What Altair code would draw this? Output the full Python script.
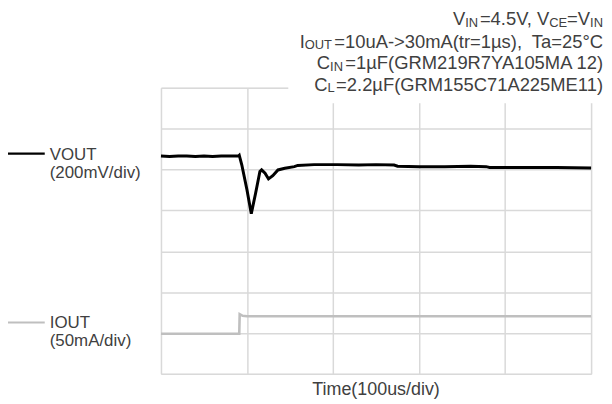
import altair as alt
import pandas as pd

# ---- data (in divisions) ----
vout_t = [0, 0.1, 0.2, 0.3, 0.4, 0.5, 0.6, 0.7, 0.8, 0.9, 0.91, 0.94, 1.0, 1.05, 1.10, 1.15,
          1.17, 1.21, 1.25, 1.30, 1.36, 1.44, 1.55, 1.59, 1.78, 2.05, 2.3, 2.5, 2.71, 2.75,
          3.0, 3.3, 3.6, 3.78, 3.82, 4.2, 4.6, 5.0]
vout_v = [5.33, 5.32, 5.33, 5.33, 5.32, 5.33, 5.32, 5.33, 5.33, 5.33, 5.35, 5.11, 4.5, 3.92,
          4.42, 4.95, 4.99, 4.91, 4.77, 4.85, 4.99, 5.03, 5.07, 5.10, 5.12, 5.12, 5.11, 5.12,
          5.11, 5.08, 5.07, 5.07, 5.08, 5.07, 5.05, 5.05, 5.05, 5.04]
iout_t = [0, 0.2, 0.4, 0.6, 0.8, 0.91, 0.915, 0.95, 1.0, 1.5, 2.0, 3.0, 4.0, 5.0]
iout_v = [0.98, 0.98, 0.98, 0.98, 0.98, 0.98, 1.46, 1.42, 1.41, 1.41, 1.41, 1.41, 1.41, 1.41]

x_ticks = [0, 1, 2, 3, 4, 5]
y_ticks = [0, 1, 2, 3, 4, 5, 6, 7]

cond_lines = [
    [("V", 0), ("IN", 1), ("=4.5V, V", 0), ("CE", 1), ("=V", 0), ("IN", 1)],
    [("I", 0), ("OUT", 1), ("=10uA->30mA(tr=1µs),\u00a0 Ta=25°C", 0)],
    [("C", 0), ("IN", 1), ("=1µF(GRM219R7YA105MA 12)", 0)],
    [("C", 0), ("L", 1), ("=2.2µF(GRM155C71A225ME11)", 0)],
]
legend_items = [("VOUT", "(200mV/div)", "#000000"), ("IOUT", "(50mA/div)", "#bfbfbf")]
x_title = "Time(100us/div)"

# ---- layout / style ----
W, H = 433, 288
FONT = "Liberation Sans"
TXT = "#404040"
MAIN, SUB = 18.5, 13
AW = {' ': 278, '\u00a0': 278, ',': 278, '(': 333, ')': 333, '-': 333, '.': 278, '/': 278,
      '=': 584, '>': 584, '°': 400, 'µ': 563, 'A': 667, 'C': 722, 'E': 667, 'F': 611,
      'G': 778, 'I': 278, 'L': 556, 'M': 833, 'N': 722, 'O': 778, 'R': 722, 'T': 611,
      'U': 722, 'V': 667, 'Y': 667, 'a': 556, 'm': 833, 'r': 333, 's': 500, 't': 278,
      'u': 556}


def tw(s, size):
    return sum(AW.get(c, 556) for c in s) * size / 1000.0


xs = alt.Scale(domain=[0, 5], nice=False, zero=False)
ys = alt.Scale(domain=[0, 7], nice=False, zero=False)

df_v = pd.DataFrame({"t": vout_t, "v": vout_v, "i": range(len(vout_t))})
df_i = pd.DataFrame({"t": iout_t, "v": iout_v, "i": range(len(iout_t))})

base_v = alt.Chart(df_v)
grid = base_v.mark_point(opacity=0).encode(
    x=alt.X("t:Q", scale=xs, axis=alt.Axis(values=x_ticks, grid=True, labels=False, ticks=False,
                                            domain=False, title=None, gridColor="#d9d9d9",
                                            gridWidth=1.5)),
    y=alt.Y("v:Q", scale=ys, axis=alt.Axis(values=y_ticks, grid=True, labels=False, ticks=False,
                                            domain=False, title=None, gridColor="#d9d9d9",
                                            gridWidth=1.5)),
)

one = pd.DataFrame({"a": [0]})
cover = alt.Chart(one).mark_rect(color="white").encode(
    x=alt.datum(1.48), x2=alt.datum(5.3), y=alt.datum(6.62), y2=alt.datum(7.6)
)

iline = alt.Chart(df_i).mark_line(color="#bfbfbf", strokeWidth=2.6).encode(
    x="t:Q", y="v:Q", order="i:Q")
vline = base_v.mark_line(color="#000000", strokeWidth=3).encode(
    x="t:Q", y="v:Q", order="i:Q")

layers = [grid, cover, iline, vline]

# condition text, right aligned, built from segments
RIGHT = 445
baselines = [-63, -40.5, -18.5, 3]
for segs, by in zip(cond_lines, baselines):
    xr = RIGHT
    for text, sub in reversed(segs):
        size = SUB if sub else MAIN
        layers.append(alt.Chart(one).mark_text(
            text=text, align="right", baseline="alphabetic", font=FONT, fontSize=size,
            color=TXT).encode(x=alt.value(xr), y=alt.value(by + (1.5 if sub else 0))))
        xr -= tw(text, size)

# left legend
leg_pos = [(66.3, 72.5, 91), (236.3, 241.5, 260)]
for (name, scale_txt, col), (ly, b1, b2) in zip(legend_items, leg_pos):
    layers.append(alt.Chart(one).mark_rule(color=col, strokeWidth=2.2).encode(
        x=alt.value(-154), x2=alt.value(-117), y=alt.value(ly)))
    layers.append(alt.Chart(one).mark_text(
        text=name, align="left", baseline="alphabetic", font=FONT, fontSize=17,
        color=TXT).encode(x=alt.value(-112), y=alt.value(b1)))
    layers.append(alt.Chart(one).mark_text(
        text=scale_txt, align="left", baseline="alphabetic", font=FONT, fontSize=17,
        color=TXT).encode(x=alt.value(-112), y=alt.value(b2)))

layers.append(alt.Chart(one).mark_text(
    text=x_title, align="center", baseline="alphabetic", font=FONT, fontSize=18,
    color=TXT).encode(x=alt.value(W / 2), y=alt.value(H + 21)))

chart = alt.layer(*layers).properties(
    width=W, height=H,
    autosize=alt.AutoSizeParams(type="none"),
    padding={"left": 154, "top": 79, "right": 13, "bottom": 26},
).configure_view(stroke=None).configure(background="white")

chart.save("out.html", embed_options={"renderer": "svg", "actions": False})
